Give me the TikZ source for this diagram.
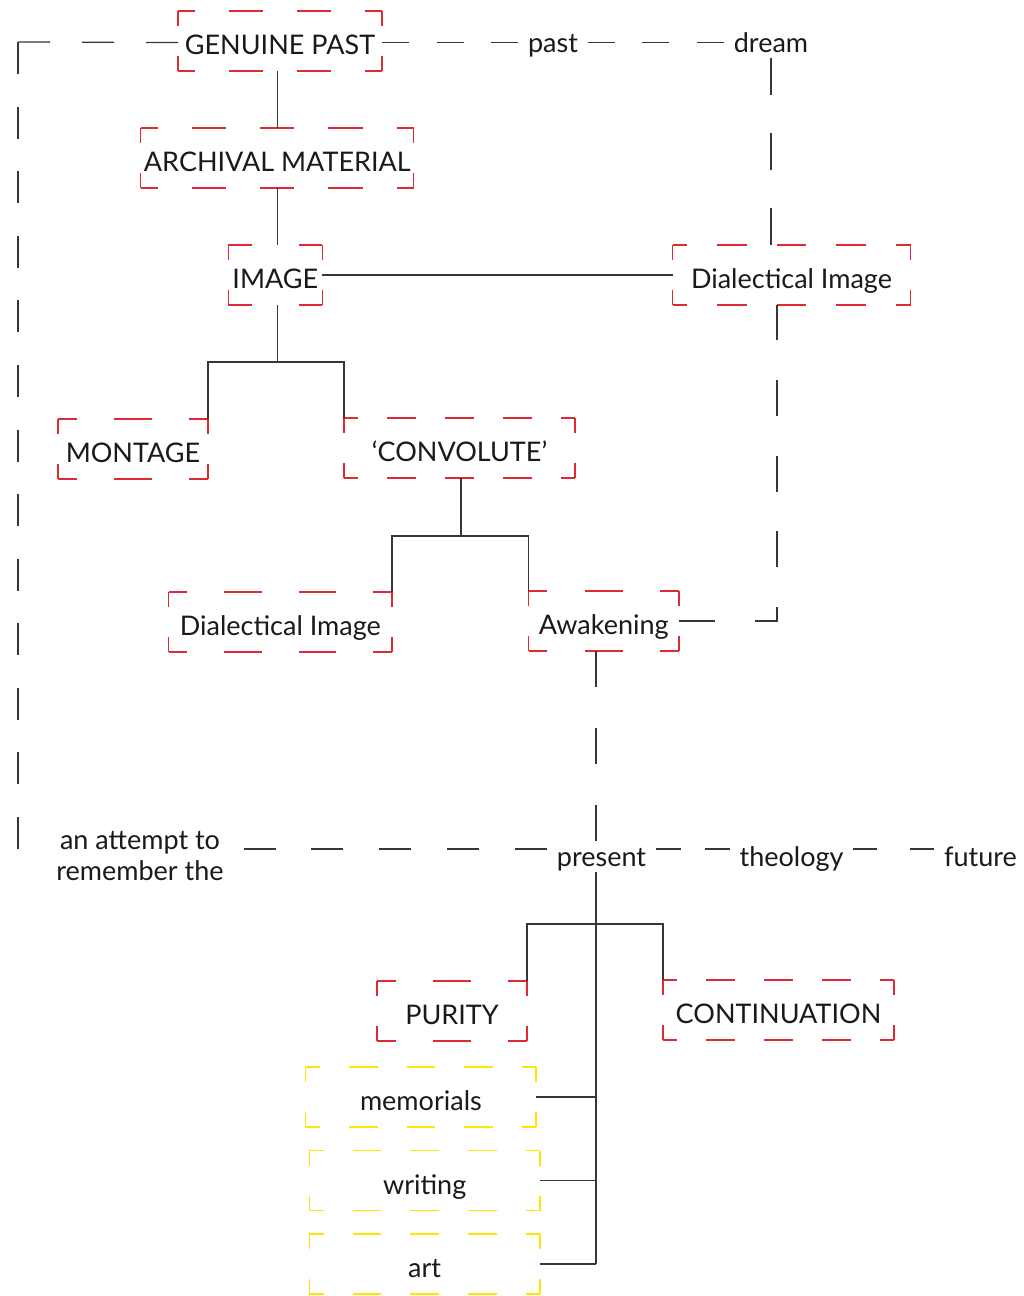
\documentclass[tikz,border=0pt]{standalone}
\usepackage{fontspec}
\setmainfont{Lato}
\usetikzlibrary{calc}

\definecolor{ink}{RGB}{26,26,26}
\definecolor{wirecol}{RGB}{55,55,55}
\definecolor{framered}{RGB}{222,42,52}
\definecolor{frameyellow}{RGB}{255,230,0}

\makeatletter
% straight dashed connector: dashes spread so that it starts and ends on a dash
\newcommand\fitdash[5][]{%
  \path (#2); \pgfgetlastxy{\fd@ax}{\fd@ay}%
  \path (#3); \pgfgetlastxy{\fd@bx}{\fd@by}%
  \pgfmathsetmacro\fd@len{veclen(\fd@bx-\fd@ax,\fd@by-\fd@ay)}%
  \pgfmathsetmacro\fd@n{max(2,round((\fd@len+#5)/(#4+#5)))}%
  \pgfmathsetmacro\fd@gap{max(0,(\fd@len-\fd@n*#4)/(\fd@n-1))}%
  \draw[wire,#1,dash pattern=on #4pt off \fd@gap pt] (#2) -- (#3);%
}
% labelled box whose dashed outline shows a bracket at every corner
\newcommand\framednode[7]{%
  \node[boxlabel,minimum width=#4pt,minimum height=#5pt] (#1) at (#2,#3) {#7};%
  \pgfmathsetmacro\fb@w{#4/(2*max(1,floor(#4/57)))}%
  \pgfmathsetmacro\fb@wp{\fb@w/2}%
  \pgfmathsetmacro\fb@h{#5/(2*max(1,floor(#5/57)))}%
  \pgfmathsetmacro\fb@hp{\fb@h/2}%
  \draw[boxline,#6,dash pattern=on \fb@w pt off \fb@w pt,dash phase=\fb@wp pt]
    (#1.north west) -- (#1.north east) (#1.south west) -- (#1.south east);%
  \draw[boxline,#6,dash pattern=on \fb@h pt off \fb@h pt,dash phase=\fb@hp pt]
    (#1.north west) -- (#1.south west) (#1.north east) -- (#1.south east);%
}
\makeatother

\begin{document}
\begin{tikzpicture}[x=1pt,y=-1pt,
  wire/.style={draw=wirecol,line width=1.3pt},
  boxline/.style={line width=1.3pt},
  boxlabel/.style={inner sep=0pt,outer sep=0pt,text=ink,
    font=\fontsize{27}{32}\selectfont,text height=27pt,text depth=0pt},
  rowlabel/.style={inner xsep=10pt,inner ysep=6pt,outer sep=0pt,text=ink,
    font=\fontsize{27}{32}\selectfont,text height=19pt,text depth=0pt},
  notelabel/.style={inner xsep=20pt,inner ysep=0pt,outer sep=0pt,text=ink,
    align=center,font=\fontsize{27}{31}\selectfont},
]
\fill[white] (0,0) rectangle (1024,1296);
\useasboundingbox (0,0) rectangle (1024,1296);

% ---- boxes
\framednode{gp}{280}{41}{204}{60}{framered}{GENUINE PAST}
\framednode{arch}{277.3}{158}{273}{60}{framered}{ARCHIVAL MATERIAL}
\framednode{img}{275.3}{275}{94}{60}{framered}{IMAGE}
\framednode{diaR}{791.5}{275}{238}{60}{framered}{Dialectical Image}
\framednode{mont}{133}{449}{150}{60}{framered}{MONTAGE}
\framednode{conv}{459.5}{448}{231}{60}{framered}{‘CONVOLUTE’}
\framednode{diaL}{280.3}{622}{223.4}{60}{framered}{Dialectical Image}
\framednode{awak}{603.8}{621}{150.4}{60}{framered}{Awakening}
\framednode{purity}{452}{1011}{150}{60}{framered}{PURITY}
\framednode{cont}{778.5}{1010}{231}{60}{framered}{CONTINUATION}
\framednode{memo}{420.9}{1097}{230.3}{60}{frameyellow}{memorials}
\framednode{writ}{424.7}{1180.7}{230.7}{60}{frameyellow}{writing}
\framednode{art}{424.7}{1264}{230.7}{60}{frameyellow}{art}

% ---- words along the dashed lines
\node[rowlabel] (past) at (553,42.5) {past};
\node[rowlabel] (dream) at (771,42.5) {dream};
\node[rowlabel] (present) at (601.5,856.5) {present};
\node[rowlabel] (theology) at (791.5,856.5) {theology};
\node[rowlabel] (future) at (980.5,856.5) {future};
\node[notelabel,anchor=base] (attempt) at (140,880) {an attempt to\\remember the};

% ---- helper points
\coordinate (framecorner) at (18,42);
\coordinate (frameend) at (18,849);
\coordinate (imgfork) at (277.3,362);
\coordinate (convfork) at (461,536);
\coordinate (wakecorner) at (777,621);
\coordinate (presfork) at (596,924);
\coordinate (pw) at ([yshift=7.5pt]present.west);

% ---- dashed lines
\fitdash{gp.east |- past.west}{past.west}{27}{27}
\fitdash{past.east}{dream.west}{27}{27}
\fitdash{gp.west |- past.west}{framecorner}{32}{32}
\fitdash{framecorner}{frameend}{32}{32}
\fitdash{dream.south}{dream.south |- diaR.north}{37}{37}
\draw[wire,dash pattern=on 36pt off 39.8pt] (awak.east) -- (wakecorner) -- (wakecorner |- diaR.south);
\fitdash{presfork |- awak.south}{presfork |- present.north}{36}{38}
\fitdash{attempt.east |- pw}{pw}{32}{34}
\fitdash{[yshift=7.5pt]present.east}{[yshift=7.5pt]theology.west}{25}{28}
\fitdash{[yshift=7.5pt]theology.east}{[yshift=7.5pt]future.west}{24}{24}

% ---- solid tree lines
\draw[wire] (arch.north |- gp.south) -- (arch.north);
\draw[wire] (arch.south) -- (arch.south |- img.north);
\draw[wire] (img.east) -- (diaR.west);
\draw[wire] (arch.south |- img.south) -- (imgfork);
\draw[wire] (mont.north east) |- (imgfork) -| (conv.north west);
\draw[wire] (convfork |- conv.south) -- (convfork);
\draw[wire] (diaL.north east) |- (convfork) -| (awak.north west);
\draw[wire] (presfork |- present.south) -- (presfork |- art.east);
\draw[wire] (purity.north east) |- (presfork) -| (cont.north west);
\draw[wire] (memo.east) -- (memo.east -| presfork);
\draw[wire] (writ.east) -- (writ.east -| presfork);
\draw[wire] (art.east) -- (art.east -| presfork);
\end{tikzpicture}
\end{document}
